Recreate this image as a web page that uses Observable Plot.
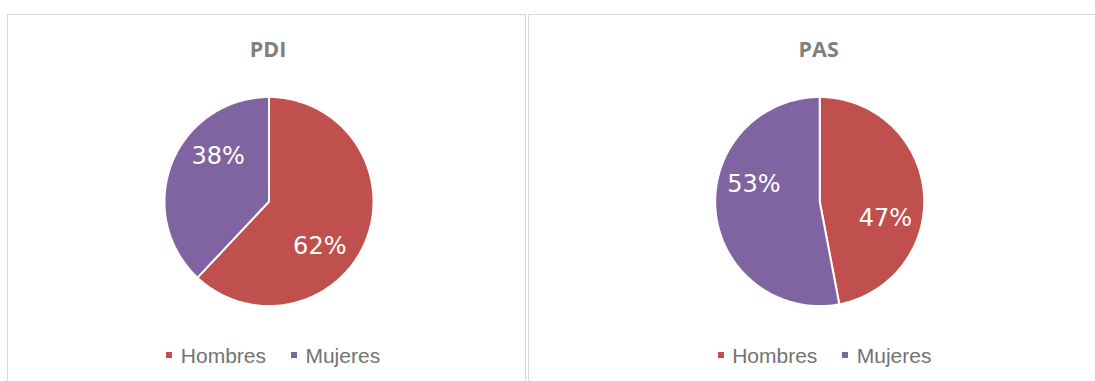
<!DOCTYPE html>
<html><head><meta charset="utf-8">
<script src="https://cdn.jsdelivr.net/npm/d3@7"></script>
<script src="https://cdn.jsdelivr.net/npm/@observablehq/plot@0.6"></script>
<style>
html,body{margin:0;padding:0;background:#fff}
body{width:1095px;height:381px;overflow:hidden;position:relative}
.frame{position:absolute;top:14px;height:420px;border:1.5px solid #d9d9d9;box-sizing:border-box}
.title{position:absolute;width:300px;text-align:center;font-family:"Open Sans";font-weight:700;font-size:21.5px;line-height:21.5px;color:#7f7f7f}
.pie{position:absolute;top:86px}
.leg{position:absolute;width:320px}
.lg-swatches{font-family:"Liberation Sans";font-size:21px;line-height:21px;color:#737373;min-height:0;margin:0;justify-content:center}
.lg-swatch{margin-right:25px}
.lg-swatch:last-child{margin-right:0}
.lg-swatch>svg{margin-right:8.4px}
</style></head><body>
<script>
// ---- data ----
const panels = ["PDI", "PAS"];
const categories = ["Hombres", "Mujeres"];
const pdiValues = [62, 38];
const pasValues = [47, 53];
const sliceColors = ["#c0504d", "#8064a2"];

// ---- layout (page px) ----
const layout = [
  {frameLeft: 7, frameWidth: 519, cx: 268, cy: 201, legendCx: 273.3},
  {frameLeft: 528, frameWidth: 600, cx: 818.7, cy: 201, legendCx: 824.6}
];
const R = 104.5;
const svgTop = 86, svgH = 230;
const labelRadius = 0.65;               // fraction of radius
const labelTurn = 20 * Math.PI / 180;   // "best fit" style rotation of labels
const seriesByPanel = [pdiValues, pasValues];

panels.forEach((name, i) => {
  const L = layout[i];
  const values = seriesByPanel[i];
  const frame = document.createElement("div");
  frame.className = "frame";
  frame.style.left = L.frameLeft + "px";
  frame.style.width = L.frameWidth + "px";
  document.body.appendChild(frame);

  const title = document.createElement("div");
  title.className = "title";
  title.textContent = name;
  title.style.left = (L.cx - 150) + "px";
  title.style.top = "37.8px";
  document.body.appendChild(title);

  const rows = categories.map((c, j) => ({cat: c, value: values[j]}));
  const arcs = d3.pie().sort(null).value(d => d.value)(rows);
  const pts = [];
  const labels = [];
  arcs.forEach(a => {
    const cat = a.data.cat;
    const n = 160;
    pts.push({cat, x: 0, y: 0});
    for (let k = 0; k <= n; k++) {
      const t = a.startAngle + (a.endAngle - a.startAngle) * k / n;
      pts.push({cat, x: Math.sin(t), y: Math.cos(t)});
    }
    pts.push({cat, x: 0, y: 0});
    const m = (a.startAngle + a.endAngle) / 2 + labelTurn;
    labels.push({cat, x: labelRadius * Math.sin(m), y: labelRadius * Math.cos(m), text: a.data.value + "%"});
  });

  const left = L.frameLeft + 1.5;
  const w = L.frameWidth - 3;
  const cx = L.cx - left, cy = L.cy - svgTop;
  const chart = Plot.plot({
    width: w, height: svgH, margin: 0,
    style: {background: "transparent"},
    x: {domain: [-1, 1], range: [cx - R, cx + R], axis: null},
    y: {domain: [-1, 1], range: [cy + R, cy - R], axis: null},
    color: {domain: categories, range: sliceColors},
    marks: [
      Plot.line(pts, {x: "x", y: "y", z: "cat", fill: "cat", stroke: "white", strokeWidth: 2, curve: "linear", strokeLinejoin: "miter"}),
      Plot.text(labels, {x: "x", y: "y", text: "text", fill: "white", fontSize: 24, fontFamily: "DejaVu Sans"})
    ]
  });
  chart.classList.add("pie");
  chart.style.left = left + "px";
  document.body.appendChild(chart);

  const leg = Plot.legend({
    color: {domain: categories, range: sliceColors, legend: "swatches"},
    legend: "swatches",
    swatchSize: 6,
    className: "lg"
  });
  const holder = document.createElement("div");
  holder.className = "leg";
  holder.style.left = (L.legendCx - 160) + "px";
  holder.style.top = "344.7px";
  holder.appendChild(leg);
  document.body.appendChild(holder);
});
</script>
</body></html>
